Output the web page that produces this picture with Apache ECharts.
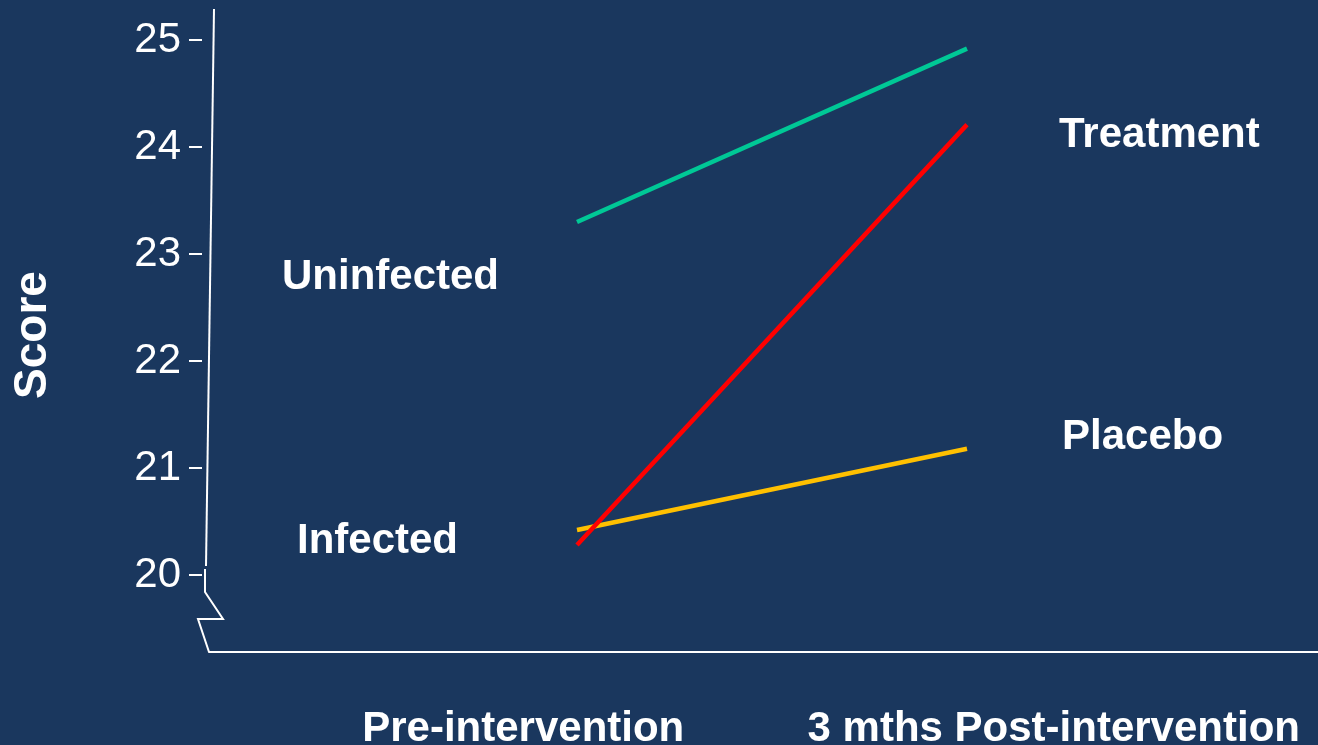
<!DOCTYPE html>
<html>
<head>
<meta charset="utf-8">
<title>Score by group</title>
<script src="https://cdn.jsdelivr.net/npm/echarts@6/dist/echarts.min.js"></script>
<style>
  html, body { margin: 0; padding: 0; background: #1a375e; }
  #chart { width: 1318px; height: 745px; }
</style>
</head>
<body>
<div id="chart"></div>
<script>
// Time points and mean scores per group
const categories = ['Pre-intervention', '3 mths Post-intervention'];
const uninfected = [23.30, 24.92];
const treatment = [20.28, 24.21];
const placebo = [20.42, 21.18];
const yTicks = [20, 21, 22, 23, 24, 25];

const FONT = '"Liberation Sans", Arial, sans-serif';
const WHITE = '#ffffff';

const chart = echarts.init(document.getElementById('chart'), null, { renderer: 'canvas' });

const toPoints = arr => arr.map((v, i) => [i, v]);

const option = {
  backgroundColor: '#1a375e',
  animation: false,
  grid: [
    // plotting area for the lines
    { left: 209, right: 0, top: 8, bottom: 93, containLabel: false, outerBoundsMode: 'none' },
    // band that carries the time-point labels under the axis
    { left: 258, width: 1061, top: 8, bottom: 93, containLabel: false, outerBoundsMode: 'none' }
  ],
  xAxis: [
    {
      type: 'value', gridIndex: 0, min: -0.9436, max: 1.9,
      axisLine: { show: true, onZero: false, lineStyle: { color: WHITE, width: 2 } },
      axisTick: { show: false }, axisLabel: { show: false }, splitLine: { show: false }
    },
    {
      type: 'category', gridIndex: 1, data: categories, boundaryGap: true,
      axisLine: { show: false, onZero: false }, axisTick: { show: false }, splitLine: { show: false },
      axisLabel: {
        show: true, interval: 0, margin: 56,
        color: WHITE, fontFamily: FONT, fontWeight: 'bold', fontSize: 42
      }
    }
  ],
  yAxis: [
    {
      type: 'value', gridIndex: 0, min: 19.28, max: 25.3, offset: 7,
      name: 'Score', nameLocation: 'middle', nameGap: 146,
      nameTextStyle: { color: WHITE, fontFamily: FONT, fontWeight: 'bold', fontSize: 46, padding: [0, 10, 0, 0] },
      axisLine: { show: false, onZero: false },
      axisTick: { show: true, inside: false, length: 13, customValues: yTicks, lineStyle: { color: WHITE, width: 2 } },
      axisLabel: {
        show: true, margin: 21, customValues: yTicks, padding: [7, 0, 0, 0],
        color: WHITE, fontFamily: FONT, fontSize: 42
      },
      splitLine: { show: false }
    },
    { type: 'value', gridIndex: 1, show: false, min: 0, max: 1 }
  ],
  series: [
    {
      name: 'Uninfected', type: 'line', xAxisIndex: 0, yAxisIndex: 0,
      data: toPoints(uninfected), showSymbol: false, symbol: 'none',
      lineStyle: { color: '#00c896', width: 4.5 }
    },
    {
      name: 'Placebo', type: 'line', xAxisIndex: 0, yAxisIndex: 0,
      data: toPoints(placebo), showSymbol: false, symbol: 'none',
      lineStyle: { color: '#ffc000', width: 4.5 }
    },
    {
      name: 'Treatment', type: 'line', xAxisIndex: 0, yAxisIndex: 0,
      data: toPoints(treatment), showSymbol: false, symbol: 'none',
      lineStyle: { color: '#ff0000', width: 4.5 }
    }
  ]
};

chart.setOption(option);

// Hand-drawn style vertical axis with a scale break, plus group labels
const px = (x, y) => chart.convertToPixel({ gridIndex: 0 }, [x, y]);
const axisOrigin = px(-0.9436, 19.28);   // where the horizontal axis starts
const axisTop = px(-0.9436, 25.3);

const groupLabel = (text, anchor, dx, dy, align) => ({
  type: 'text', x: anchor[0] + dx, y: anchor[1] + dy, z: 10,
  style: { text, fill: WHITE, font: 'bold 42px ' + FONT, align, verticalAlign: 'middle' }
});

const ox = axisOrigin[0], oy = axisOrigin[1];
chart.setOption({
  graphic: [
    {
      type: 'polyline', z: 5,
      shape: { points: [[ox + 5, axisTop[1] + 1], [ox - 3, oy - 86]] },
      style: { stroke: WHITE, lineWidth: 2, fill: null }
    },
    {
      type: 'polyline', z: 5,
      shape: { points: [[ox - 4, oy - 83], [ox - 4, oy - 60], [ox + 14, oy - 33], [ox - 11, oy - 33], [ox, oy]] },
      style: { stroke: WHITE, lineWidth: 2, fill: null }
    },
    groupLabel('Treatment', px(1, treatment[1]), 92, 11, 'left'),
    groupLabel('Placebo', px(1, placebo[1]), 95, -11, 'left'),
    groupLabel('Uninfected', px(0, uninfected[0]), -78, 55, 'right'),
    groupLabel('Infected', px(0, treatment[0]), -119, -4, 'right')
  ]
});
</script>
</body>
</html>
